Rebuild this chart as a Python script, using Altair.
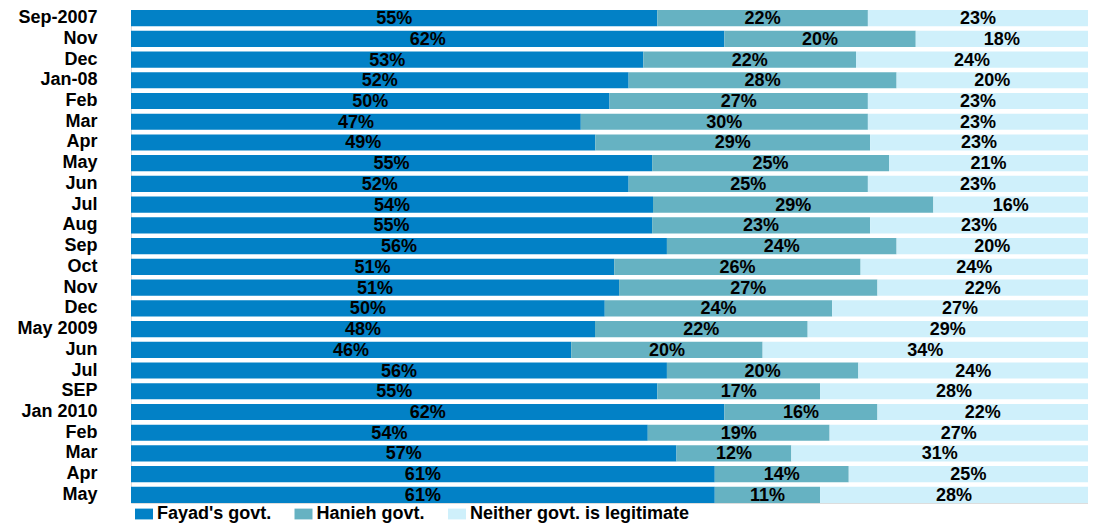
import altair as alt
import pandas as pd

months = ["Sep-2007", "Nov", "Dec", "Jan-08", "Feb", "Mar", "Apr", "May", "Jun", "Jul",
          "Aug", "Sep", "Oct", "Nov", "Dec", "May 2009", "Jun", "Jul", "SEP", "Jan 2010",
          "Feb", "Mar", "Apr", "May"]
fayad = [55, 62, 53, 52, 50, 47, 49, 55, 52, 54, 55, 56, 51, 51, 50, 48, 46, 56, 55, 62, 54, 57, 61, 61]
hanieh = [22, 20, 22, 28, 27, 30, 29, 25, 25, 29, 23, 24, 26, 27, 24, 22, 20, 20, 17, 16, 19, 12, 14, 11]
neither = [23, 18, 24, 20, 23, 23, 23, 21, 23, 16, 23, 20, 24, 22, 27, 29, 34, 24, 28, 22, 27, 31, 25, 28]
series = ["Fayad's govt.", "Hanieh govt.", "Neither govt. is legitimate"]
colors = ["#0281C6", "#66B2C2", "#CFF0FB"]

rows = []
for i, m in enumerate(months):
    for k, (name, vals) in enumerate(zip(series, [fayad, hanieh, neither])):
        rows.append({"row": i, "month": m, "series": name, "order": k, "value": vals[i]})
df = pd.DataFrame(rows)

label_expr = "[" + ",".join('"%s"' % m for m in months) + "][datum.value]"
FS = 18

base = alt.Chart(df).transform_joinaggregate(
    total="sum(value)", groupby=["row"]
).transform_window(
    cum="sum(value)", sort=[alt.SortField("order", order="ascending")],
    frame=[None, 0], groupby=["row"]
).transform_calculate(
    start="(datum.cum - datum.value) / datum.total",
    end="datum.cum / datum.total",
    mid="(datum.cum - datum.value / 2) / datum.total",
    lab="datum.value + '%'"
)

y = alt.Y("row:O", title=None,
          scale=alt.Scale(paddingInner=0.22, paddingOuter=0),
          axis=alt.Axis(labelExpr=label_expr, domain=False, ticks=False,
                        labelPadding=34, labelFont="Liberation Sans",
                        labelFontWeight="bold", labelFontSize=FS,
                        labelColor="#000000"))

bars = base.mark_bar().encode(
    x=alt.X("start:Q", scale=alt.Scale(domain=[0, 1], nice=False), axis=None),
    x2="end:Q",
    y=y,
    color=alt.Color("series:N", scale=alt.Scale(domain=series, range=colors),
                    sort=series,
                    legend=alt.Legend(title=None, orient="none", direction="horizontal",
                                      legendX=4, legendY=495,
                                      symbolType="M-1,-0.6H1V0.6H-1Z",
                                      symbolSize=324, symbolStrokeWidth=0,
                                      labelFont="Liberation Sans", labelFontWeight="bold",
                                      labelFontSize=FS, labelColor="#000000",
                                      labelLimit=600, labelOffset=4,
                                      columnPadding=22.5, padding=0)),
    order=alt.Order("order:Q")
)

text = base.mark_text(font="Liberation Sans", fontWeight="bold", fontSize=FS,
                      color="#000000", baseline="middle", dy=1).encode(
    x=alt.X("mid:Q", scale=alt.Scale(domain=[0, 1], nice=False), axis=None),
    y=y,
    text="lab:N"
)

chart = (bars + text).properties(
    width=957, height=493,
    autosize=alt.AutoSizeParams(type="none"),
    padding={"left": 123, "top": 2, "right": 0, "bottom": 21}
).configure_view(stroke=None).configure(background="#ffffff")

chart.save("out.html", embed_options={"renderer": "svg", "actions": False})
